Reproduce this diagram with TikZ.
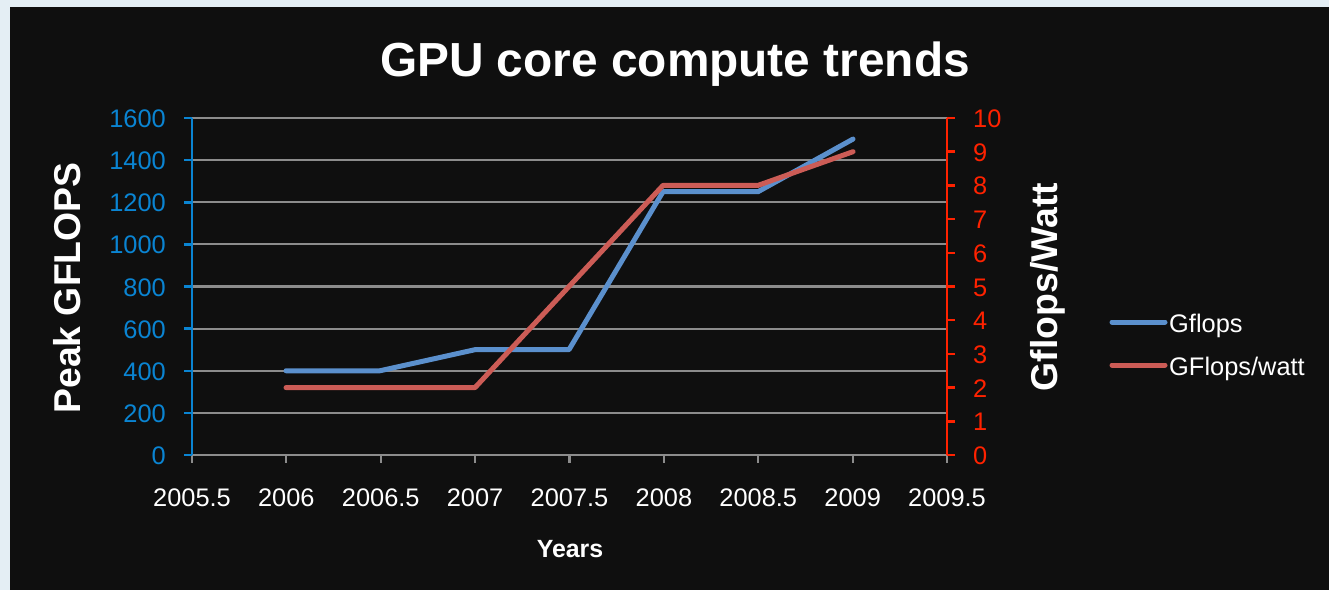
\documentclass[tikz,border=0pt]{standalone}
\usepackage{fontspec}
\setmainfont{Liberation Sans}
\definecolor{bgout}{HTML}{E4EEF4}
\definecolor{bgin}{HTML}{0F0F0F}
\definecolor{axblue}{HTML}{0A84D2}
\definecolor{axred}{HTML}{FF2200}
\definecolor{lnblue}{HTML}{5B90CD}
\definecolor{lnred}{HTML}{CC5C56}
\definecolor{gridgray}{HTML}{8C8C8C}
\begin{document}
\begin{tikzpicture}[x=1bp,y=-1bp,
  lbl/.style={inner sep=0pt, font=\fontsize{25.5}{30}\selectfont},
  bigbold/.style={inner sep=0pt, font=\fontsize{37.5}{42}\selectfont\bfseries, text=white},
  gridline/.style={draw=gridgray, line width=2.2bp},
  dataline/.style={line width=5bp, line cap=round, line join=round}]
\useasboundingbox (0,0) rectangle (1329,590);
\fill[bgout] (0,0) rectangle (1329,590);
\fill[bgin] (10,7) rectangle (1329,590);
% title
\node[inner sep=0pt, anchor=base, text=white, font=\fontsize{48}{54}\selectfont\bfseries] (title) at (675,77) {GPU core compute trends};
% grid lines
\foreach \i in {1,...,8} \draw[gridline] (192,{455-\i*42.125}) -- (947,{455-\i*42.125});
% bottom axis
\draw[gridline] (192,455) -- (947,455);
\foreach \i/\t in {0/2005.5,1/2006,2/2006.5,3/2007,4/2007.5,5/2008,6/2008.5,7/2009,8/2009.5} {
  \draw[gridline] ({192+\i*94.375},455) -- ++(0,8);
  \node[lbl, text=white, anchor=base] at ({192+\i*94.375},506) {\t};
}
% left axis
\draw[axblue, line width=2.5bp] (192,455) -- (192,118);
\foreach \i in {0,...,8} {
  \draw[axblue, line width=2.5bp] (184,{455-\i*42.125}) -- (192,{455-\i*42.125});
  \pgfmathtruncatemacro{\v}{\i*200}
  \node[lbl, text=axblue, anchor=base east] at (166,{464.5-\i*42.125}) {\v};
}
% right axis
\draw[axred, line width=2.5bp] (947,455) -- (947,118);
\foreach \i in {0,...,10} {
  \draw[axred, line width=2.5bp] (947,{455-\i*33.7}) -- (955,{455-\i*33.7});
  \node[lbl, text=axred, anchor=base west] at (973,{464.5-\i*33.7}) {\i};
}
% data
\draw[dataline, lnblue] (286,370.75) -- (380,370.75) -- (475,349.69) -- (569,349.69) -- (663,191.72) -- (758,191.72) -- (853,139.06);
\draw[dataline, lnred] (286,387.6) -- (380,387.6) -- (475,387.6) -- (569,286.5) -- (663,185.4) -- (758,185.4) -- (853,151.7);
% axis titles
\node[bigbold, rotate=90] (ylab) at (67,288) {Peak GFLOPS};
\node[bigbold, rotate=90] (y2lab) at (1048,287) {Gflops/Watt};
\node[inner sep=0pt, anchor=base, text=white, font=\fontsize{25}{30}\selectfont\bfseries] (xlab) at (570,557) {Years};
% legend
\draw[dataline, lnblue] (1112,322) -- (1165,322);
\node[lbl, text=white, anchor=base west] (leg1) at (1169,332) {Gflops};
\draw[dataline, lnred] (1112,365) -- (1165,365);
\node[lbl, text=white, anchor=base west] (leg2) at (1169,375) {GFlops/watt};
\end{tikzpicture}
\end{document}
